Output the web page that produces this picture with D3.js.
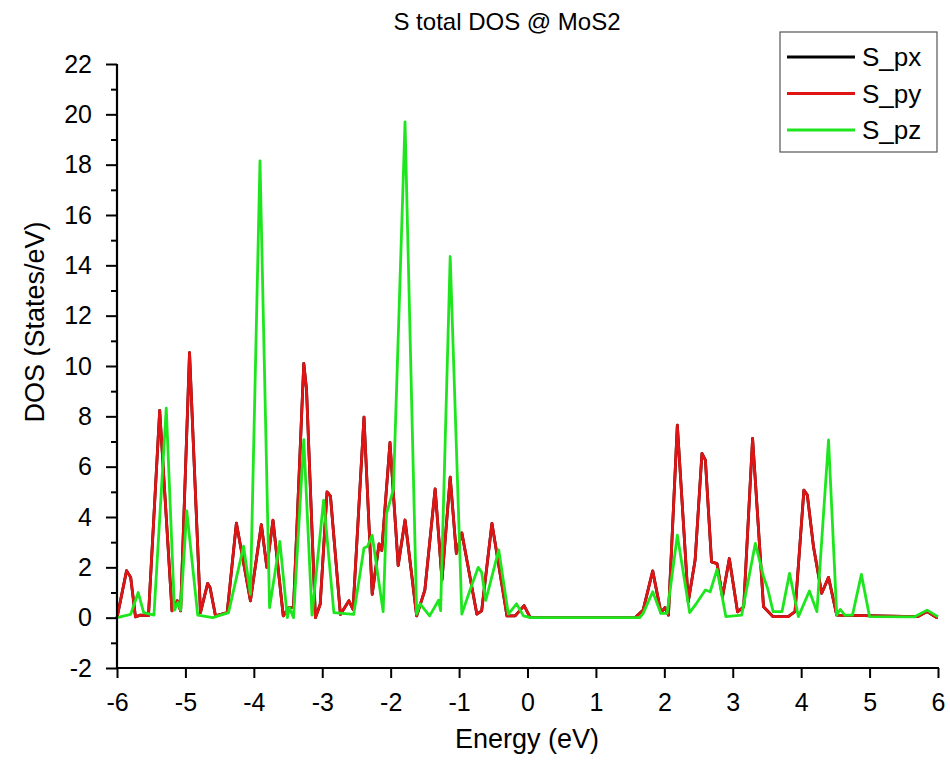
<html>
<head>
<meta charset="utf-8">
<title>S total DOS @ MoS2</title>
<script src="https://cdn.jsdelivr.net/npm/d3@7"></script>
<style>
  body { margin: 0; background: #fff; }
  text { font-family: "Liberation Sans", Arial, sans-serif; fill: #000; }
</style>
</head>
<body>
<div id="chart"></div>
<script>
(function(){
  "use strict";

  // S_py (red): energy (eV) and DOS
  var pyEnergy = [-6.00,-5.86,-5.80,-5.73,-5.66,-5.54,-5.376,-5.196,-5.12,-5.07,-4.94,-4.78,-4.675,-4.64,-4.56,-4.39,-4.255,-4.05,-3.89,-3.81,-3.72,-3.57,-3.49,-3.42,-3.27,-3.23,-3.10,-3.03,-2.93,-2.88,-2.735,-2.61,-2.55,-2.39,-2.27,-2.17,-2.13,-2.01,-1.89,-1.79,-1.62,-1.50,-1.35,-1.25,-1.13,-1.04,-0.96,-0.74,-0.67,-0.52,-0.30,-0.18,-0.05,0.04,1.57,1.69,1.83,1.95,2.01,2.06,2.19,2.35,2.45,2.55,2.60,2.69,2.77,2.85,2.95,3.07,3.16,3.29,3.45,3.59,3.81,3.91,4.04,4.09,4.18,4.30,4.40,4.52,5.70,5.84,5.98,6.00];
  var pyDos    = [0.00,1.87,1.60,0.03,0.10,0.08,8.24,0.27,0.67,0.27,10.53,0.20,1.36,1.20,0.07,0.20,3.76,0.67,3.70,2.00,3.87,0.07,0.40,0.40,10.10,9.07,0.00,0.53,5.00,4.83,0.13,0.67,0.33,7.97,0.93,2.93,2.67,6.96,2.07,3.88,0.07,1.10,5.12,1.50,5.58,2.55,3.37,0.14,0.27,3.75,0.07,0.07,0.48,0.00,0.00,0.30,1.86,0.20,0.40,0.10,7.65,0.63,2.29,6.53,6.26,2.22,2.15,0.83,2.35,0.23,0.43,7.12,0.43,0.04,0.04,0.24,5.07,4.87,2.82,0.97,1.60,0.10,0.04,0.24,0.00,0.00];

  // S_px coincides with S_py in the picture (black line hidden under red)
  var pxEnergy = pyEnergy;
  var pxDos = pyDos;

  // S_pz (green)
  var pzEnergy = [-6.00,-5.80,-5.69,-5.61,-5.46,-5.28,-5.16,-5.11,-5.07,-4.98,-4.82,-4.60,-4.37,-4.15,-4.05,-3.91,-3.77,-3.62,-3.51,-3.48,-3.42,-3.27,-3.15,-2.98,-2.83,-2.54,-2.39,-2.34,-2.27,-2.11,-2.06,-1.96,-1.79,-1.62,-1.57,-1.43,-1.30,-1.27,-1.13,-0.96,-0.84,-0.72,-0.67,-0.61,-0.42,-0.28,-0.16,-0.06,0.05,1.64,1.69,1.83,1.95,2.04,2.19,2.37,2.47,2.60,2.67,2.77,2.90,3.13,3.33,3.45,3.51,3.59,3.72,3.83,3.96,4.12,4.23,4.40,4.52,4.57,4.64,4.75,4.88,5.00,5.65,5.84,5.98,6.00];
  var pzDos    = [0.00,0.13,1.00,0.20,0.10,8.33,0.30,0.60,0.30,4.24,0.10,0.00,0.20,2.84,0.93,18.15,0.40,3.03,0.00,0.40,0.00,7.07,0.10,4.67,0.20,0.13,2.77,2.83,3.27,0.24,4.13,5.10,19.70,0.14,0.55,0.07,0.69,0.28,14.35,0.14,1.10,2.00,1.80,0.69,2.69,0.14,0.55,0.07,0.00,0.00,0.17,1.03,0.17,0.17,3.28,0.20,0.57,1.10,1.03,1.92,0.04,0.10,2.95,1.63,1.16,0.24,0.24,1.76,0.04,1.06,0.24,7.06,0.10,0.33,0.10,0.10,1.72,0.04,0.03,0.30,0.07,0.03];

  var xTicks = [-6,-5,-4,-3,-2,-1,0,1,2,3,4,5,6];
  var yTicks = [-2,0,2,4,6,8,10,12,14,16,18,20,22];
  var yMinor = [-1,1,3,5,7,9,11,13,15,17,19,21];

  var seriesNames = ["S_px", "S_py", "S_pz"];
  var seriesColors = ["#000000", "#e01414", "#1ee61e"];

  var width = 950, height = 762;
  var margin = { top: 64, right: 12, bottom: 94, left: 117 };
  var w = width - margin.left - margin.right;
  var h = height - margin.top - margin.bottom;

  var svg = d3.select("#chart").append("svg")
    .attr("width", width)
    .attr("height", height)
    .style("background", "#fff");

  var x = d3.scaleLinear().domain([-6, 6]).range([0, w]);
  var y = d3.scaleLinear().domain([-2, 22]).range([h, 0]);

  var g = svg.append("g")
    .attr("transform", "translate(" + margin.left + "," + margin.top + ")");

  // lines
  var line = d3.line()
    .x(function(d){ return x(d[0]); })
    .y(function(d){ return y(d[1]); });

  var series = [
    d3.zip(pxEnergy, pxDos),
    d3.zip(pyEnergy, pyDos),
    d3.zip(pzEnergy, pzDos)
  ];

  g.selectAll("path.dos")
    .data(series)
    .enter().append("path")
      .attr("class", "dos")
      .attr("d", line)
      .style("fill", "none")
      .style("stroke", function(d, i){ return seriesColors[i]; })
      .style("stroke-width", 2.8)
      .style("stroke-linejoin", "round");

  // plain hyphen for negatives, like the original
  var fmt = function(d){ return String(d); };

  // y axis
  var yAxis = d3.axisLeft(y).tickValues(yTicks).tickSize(11).tickPadding(14).tickFormat(fmt);
  var yGuide = g.append("g").call(yAxis);
  g.append("g").call(d3.axisLeft(y).tickValues(yMinor).tickSize(6).tickFormat(""))
    .select(".domain").remove();

  // x axis
  var xAxis = d3.axisBottom(x).tickValues(xTicks).tickSize(10).tickPadding(15).tickFormat(fmt);
  var xGuide = g.append("g").attr("transform", "translate(0," + h + ")").call(xAxis);

  g.selectAll(".domain").style("stroke", "#000").style("stroke-width", 2.2);
  yGuide.select(".domain").attr("d", "M0," + (h + 1) + "V0");
  xGuide.select(".domain").attr("d", "M-1,0H" + (w + 1));
  g.selectAll(".tick line").style("stroke", "#000").style("stroke-width", 2);
  g.selectAll(".tick text").style("font-size", "25px")
    .style("font-family", "'Liberation Sans', Arial, sans-serif");

  // titles
  svg.append("text")
    .attr("x", 507).attr("y", 30)
    .attr("text-anchor", "middle")
    .style("font-size", "24px")
    .text("S total DOS @ MoS2");

  svg.append("text")
    .attr("transform", "translate(44,322) rotate(-90)")
    .attr("text-anchor", "middle")
    .style("font-size", "27px")
    .text("DOS (States/eV)");

  svg.append("text")
    .attr("x", 527).attr("y", 748)
    .attr("text-anchor", "middle")
    .style("font-size", "27px")
    .text("Energy (eV)");

  // legend
  var legend = svg.append("g").attr("transform", "translate(780,32)");
  legend.append("rect")
    .attr("width", 157).attr("height", 120)
    .style("fill", "#fff").style("stroke", "#555").style("stroke-width", 1.2);

  var rows = legend.selectAll("g.row")
    .data(seriesNames)
    .enter().append("g")
      .attr("class", "row")
      .attr("transform", function(d, i){ return "translate(0," + (25 + i * 36.5) + ")"; });
  rows.append("line")
    .attr("x1", 7).attr("x2", 75)
    .style("stroke", function(d, i){ return seriesColors[i]; })
    .style("stroke-width", 3);
  rows.append("text")
    .attr("x", 82).attr("dy", "0.36em")
    .style("font-size", "26px")
    .text(function(d){ return d; });
})();
</script>
</body>
</html>
